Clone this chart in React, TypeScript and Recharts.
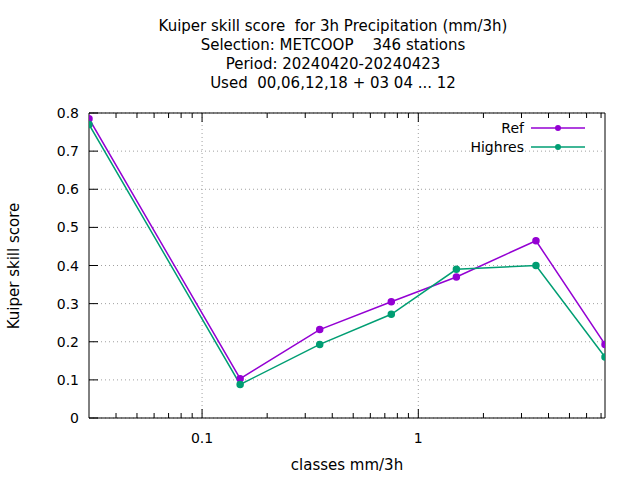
import { LineChart, Line, XAxis, YAxis, CartesianGrid, ReferenceLine } from 'recharts'

const classes = [0.03, 0.15, 0.35, 0.75, 1.5, 3.5, 7.3]
const refScore = [0.785, 0.103, 0.232, 0.305, 0.37, 0.465, 0.193]
const highresScore = [0.77, 0.088, 0.193, 0.272, 0.39, 0.4, 0.16]
const yTicks = [0, 0.1, 0.2, 0.3, 0.4, 0.5, 0.6, 0.7, 0.8]
const majorX = [0.1, 1]
const minorX = [0.04, 0.05, 0.06, 0.07, 0.08, 0.09, 0.2, 0.3, 0.4, 0.5, 0.6, 0.7, 0.8, 0.9, 2, 3, 4, 5, 6, 7]
const titleLines = [
  'Kuiper skill score  for 3h Precipitation (mm/3h)',
  'Selection: METCOOP    346 stations',
  'Period: 20240420-20240423',
  'Used  00,06,12,18 + 03 04 ... 12',
]

const data = classes.map((c, i) => ({ c, ref: refScore[i], highres: highresScore[i] }))
const font = 'DejaVu Sans, sans-serif'
const purple = '#9400d3'
const green = '#009e73'

// gnuplot-style inward ticks; labels only on the decades
const BottomTick = (p: any) => {
  const major = majorX.includes(p.payload.value)
  return (
    <g>
      <line x1={p.x} x2={p.x} y1={p.y - 8} y2={p.y - 8 - (major ? 9 : 5)} stroke="#000" />
      {major && (
        <text x={p.x} y={p.y + 17} textAnchor="middle" fontSize={14} fontFamily={font} fill="#000">
          {p.payload.value}
        </text>
      )}
    </g>
  )
}
const TopTick = (p: any) => {
  const major = majorX.includes(p.payload.value)
  return <line x1={p.x} x2={p.x} y1={p.y + 8} y2={p.y + 8 + (major ? 9 : 5)} stroke="#000" />
}
const LeftTick = (p: any) => (
  <g>
    <line x1={p.x + 8} x2={p.x + 17} y1={p.y} y2={p.y} stroke="#000" />
    <text x={p.x - 2} y={p.y + 5} textAnchor="end" fontSize={14} fontFamily={font} fill="#000">
      {p.payload.value === 0 ? '0' : p.payload.value.toFixed(1)}
    </text>
  </g>
)
const RightTick = (p: any) => <line x1={p.x - 8} x2={p.x - 17} y1={p.y} y2={p.y} stroke="#000" />

const LegendBox = () => (
  <svg width={140} height={45} style={{ fontFamily: font, fontSize: 14 }}>
    <text x={70} y={19} textAnchor="end">Ref</text>
    <line x1={77} x2={131} y1={14} y2={14} stroke={purple} strokeWidth={1.5} />
    <circle cx={104} cy={14} r={3} fill={purple} />
    <text x={70} y={38} textAnchor="end">Highres</text>
    <line x1={77} x2={131} y1={33} y2={33} stroke={green} strokeWidth={1.5} />
    <circle cx={104} cy={33} r={3} fill={green} />
  </svg>
)

export default function App() {
  return (
    <div style={{ position: 'absolute', left: 0, top: 0, width: 640, height: 480, background: '#fff', fontFamily: font }}>
      {titleLines.map((t, i) => (
        <div key={i} style={{ position: 'absolute', left: 0, width: 666, top: 17 + i * 19, textAlign: 'center', fontSize: 15, whiteSpace: 'pre' }}>
          {t}
        </div>
      ))}
      <div style={{ position: 'absolute', left: 0, width: 694, top: 456, textAlign: 'center', fontSize: 15 }}>classes mm/3h</div>
      <div style={{ position: 'absolute', left: 14, top: 266, fontSize: 15, transform: 'translate(-50%,-50%) rotate(-90deg)', whiteSpace: 'nowrap' }}>
        Kuiper skill score
      </div>
      <LineChart width={640} height={480} data={data} margin={{ top: 112, right: 34, bottom: 61, left: 88 }} style={{ position: 'absolute', left: 0, top: 0 }}>
        <CartesianGrid vertical={false} stroke="#a0a0a0" strokeDasharray="1 3" />
        <ReferenceLine x={0.1} stroke="#a0a0a0" strokeDasharray="1 3" />
        <ReferenceLine x={1} stroke="#a0a0a0" strokeDasharray="1 3" />
        <XAxis dataKey="c" type="number" scale="log" domain={[0.03, 7.3]} allowDataOverflow ticks={[...majorX, ...minorX]} tickLine={false} tick={BottomTick} height={1} stroke="#000" interval={0} />
        <XAxis xAxisId="top" orientation="top" dataKey="c" type="number" scale="log" domain={[0.03, 7.3]} allowDataOverflow ticks={[...majorX, ...minorX]} tickLine={false} tick={TopTick} height={1} stroke="#000" interval={0} />
        <YAxis domain={[0, 0.8]} ticks={yTicks} tickLine={false} tick={LeftTick} width={1} stroke="#000" interval={0} />
        <YAxis yAxisId="r" orientation="right" domain={[0, 0.8]} ticks={yTicks} tickLine={false} tick={RightTick} width={1} stroke="#000" interval={0} />
        <Line dataKey="ref" stroke={purple} strokeWidth={1.5} dot={{ r: 3, fill: purple, stroke: purple }} isAnimationActive={false} />
        <Line dataKey="highres" stroke={green} strokeWidth={1.5} dot={{ r: 3, fill: green, stroke: green }} isAnimationActive={false} />
      </LineChart>
      <div style={{ position: 'absolute', left: 454, top: 114 }}>
        <LegendBox />
      </div>
    </div>
  )
}
